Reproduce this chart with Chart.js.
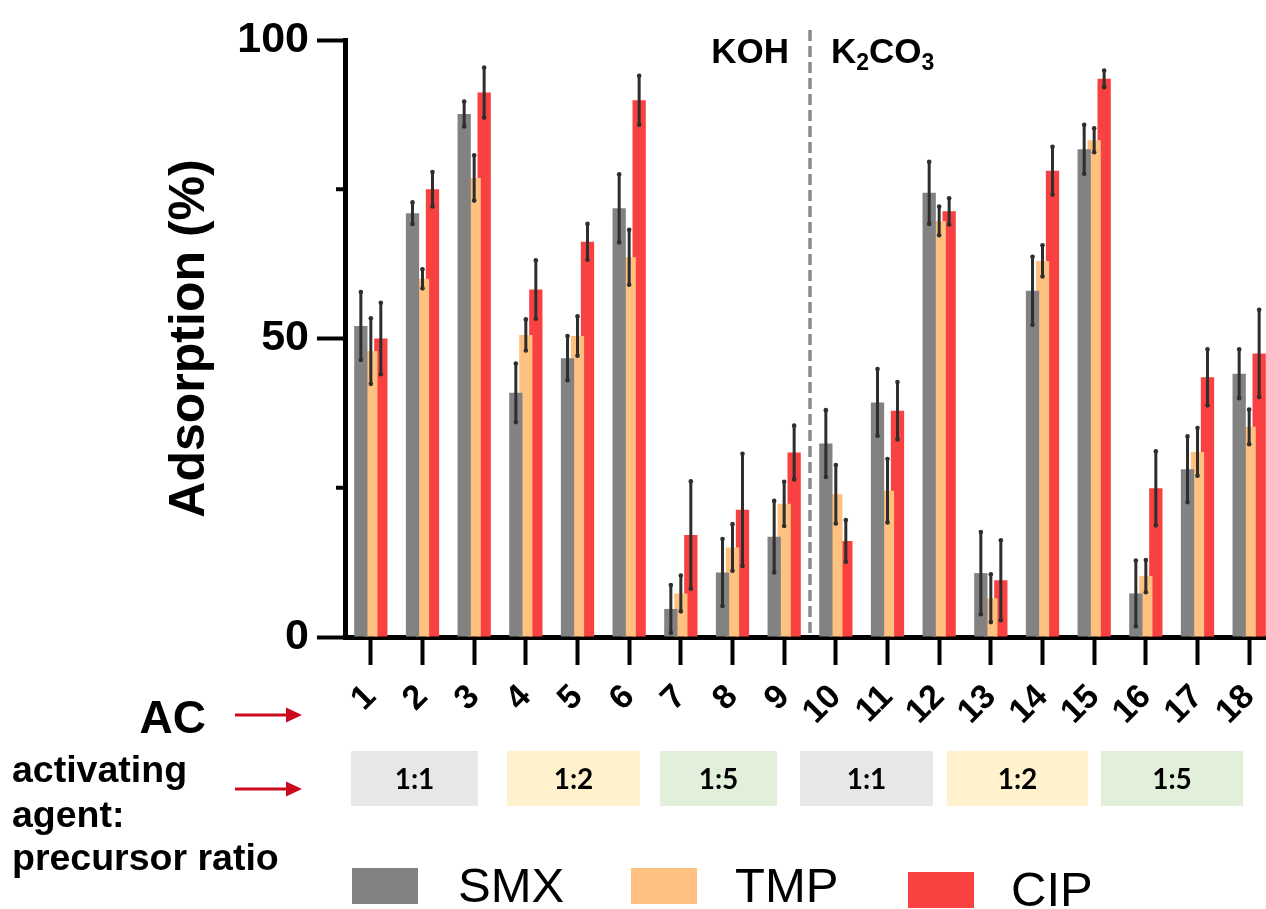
<!DOCTYPE html>
<html>
<head>
<meta charset="utf-8">
<title>Antibiotic adsorption on activated carbons</title>
<script src="https://cdn.jsdelivr.net/npm/chart.js@4.4.0/dist/chart.umd.min.js"></script>
<style>
  html, body { margin: 0; padding: 0; background: #fff; overflow: hidden; }
  #wrap { position: relative; width: 1266px; height: 909px; overflow: hidden; }
  #adsChart { position: absolute; left: 0; top: 0; }
</style>
</head>
<body>
<div id="wrap"><canvas id="adsChart" width="1280" height="909"></canvas></div>
<script>
// activated carbon samples 1-18 (1-9 KOH, 10-18 K2CO3)
const samples = ['1', '2', '3', '4', '5', '6', '7', '8', '9',
                 '10', '11', '12', '13', '14', '15', '16', '17', '18'];

// adsorption (%) mean and standard deviation per antibiotic
const smxMean = [52.1, 71.0, 87.6, 40.9, 46.7, 71.8, 4.7, 10.8, 16.8, 32.4, 39.3, 74.4, 10.7, 58.0, 81.7, 7.3, 28.1, 44.1];
const smxSd   = [5.7, 1.8, 2.1, 4.9, 3.7, 5.7, 4.0, 5.6, 6.0, 5.6, 5.6, 5.2, 6.9, 5.7, 4.1, 5.5, 5.5, 4.1];
const tmpMean = [47.9, 60.0, 76.9, 50.6, 50.4, 63.6, 7.3, 15.0, 22.3, 23.9, 24.5, 69.7, 6.5, 63.0, 83.2, 10.2, 31.0, 35.2];
const tmpSd   = [5.5, 1.6, 3.8, 2.6, 3.3, 4.6, 3.0, 3.9, 3.7, 4.9, 5.3, 2.4, 4.0, 2.6, 2.0, 2.7, 4.0, 2.9];
const cipMean = [50.0, 75.0, 91.2, 58.2, 66.2, 89.9, 17.1, 21.3, 30.9, 16.1, 37.9, 71.3, 9.5, 78.1, 93.5, 24.9, 43.5, 47.5];
const cipSd   = [6.0, 2.9, 4.2, 4.9, 3.0, 4.1, 9.0, 9.4, 4.5, 3.5, 4.8, 2.2, 6.7, 4.0, 1.4, 6.2, 4.7, 7.3];

const seriesNames = ['SMX', 'TMP', 'CIP'];
const yLabelled = [0, 50, 100];
const ratioLabels = ['1:1', '1:2', '1:5', '1:1', '1:2', '1:5'];

const errors = [smxSd, tmpSd, cipSd];
const FONT = '"Liberation Sans", Arial, sans-serif';

// boxes under the axis for the activating agent ratio rows
const ratioBoxes = [[351, 478], [507, 640], [660, 777], [800, 933], [947, 1088], [1101, 1243]];
const ratioFills = ['#e7e7e7', '#fff2cd', '#e2efda', '#e7e7e7', '#fff2cd', '#e2efda'];

const errorBars = {
  id: 'errorBars',
  afterDatasetsDraw(chart) {
    const { ctx } = chart;
    const y = chart.scales.y;
    ctx.save();
    ctx.strokeStyle = '#2e2e2e';
    ctx.fillStyle = '#2e2e2e';
    ctx.lineWidth = 3;
    ctx.lineCap = 'round';
    chart.data.datasets.forEach((ds, i) => {
      chart.getDatasetMeta(i).data.forEach((bar, j) => {
        const sd = errors[i][j];
        const top = y.getPixelForValue(ds.data[j] + sd);
        const bot = y.getPixelForValue(Math.max(0, ds.data[j] - sd));
        ctx.beginPath();
        ctx.moveTo(bar.x, top);
        ctx.lineTo(bar.x, bot);
        ctx.stroke();
        [top, bot].forEach(p => {
          ctx.beginPath();
          ctx.arc(bar.x, p, 2.3, 0, Math.PI * 2);
          ctx.fill();
        });
      });
    });
    ctx.restore();
  }
};

function arrow(ctx, x0, x1, y) {
  ctx.beginPath();
  ctx.moveTo(x0, y);
  ctx.lineTo(x1 - 14, y);
  ctx.stroke();
  ctx.beginPath();
  ctx.moveTo(x1, y);
  ctx.lineTo(x1 - 16, y - 7.5);
  ctx.lineTo(x1 - 16, y + 7.5);
  ctx.closePath();
  ctx.fill();
}

const annotations = {
  id: 'annotations',
  afterDraw(chart) {
    const { ctx, chartArea } = chart;
    const x = chart.scales.x;
    const y = chart.scales.y;
    ctx.save();

    // short ticks at 25 and 75
    ctx.strokeStyle = '#000';
    ctx.lineWidth = 4;
    [25, 75].forEach(v => {
      const py = y.getPixelForValue(v);
      ctx.beginPath();
      ctx.moveTo(chartArea.left - 9, py);
      ctx.lineTo(chartArea.left, py);
      ctx.stroke();
    });

    // KOH | K2CO3 divider
    const xd = (x.getPixelForValue(8) + x.getPixelForValue(9)) / 2;
    ctx.strokeStyle = '#8a8a8a';
    ctx.lineWidth = 3.5;
    ctx.setLineDash([11, 5]);
    ctx.beginPath();
    ctx.moveTo(xd, 30);
    ctx.lineTo(xd, chartArea.bottom - 3);
    ctx.stroke();
    ctx.setLineDash([]);

    ctx.fillStyle = '#000';
    ctx.textBaseline = 'alphabetic';
    ctx.font = 'bold 35px ' + FONT;
    ctx.textAlign = 'right';
    ctx.fillText('KOH', xd - 21, 63);
    ctx.textAlign = 'left';
    let cx = xd + 21;
    const parts = [['K', 35, 63], ['2', 23, 70], ['CO', 35, 63], ['3', 23, 70]];
    parts.forEach(([t, s, b]) => {
      ctx.font = 'bold ' + s + 'px ' + FONT;
      ctx.fillText(t, cx, b);
      cx += ctx.measureText(t).width;
    });

    // row captions and arrows
    ctx.font = 'bold 46px ' + FONT;
    ctx.textAlign = 'right';
    ctx.fillText('AC', 206, 733);
    ctx.textAlign = 'left';
    ctx.font = 'bold 37.5px ' + FONT;
    ctx.fillText('activating', 12, 782);
    ctx.fillText('agent:', 12, 827);
    ctx.fillText('precursor ratio', 12, 870);

    ctx.strokeStyle = '#cc0a1e';
    ctx.fillStyle = '#cc0a1e';
    ctx.lineWidth = 3;
    arrow(ctx, 235, 302, 715);
    arrow(ctx, 235, 302, 789);

    // ratio boxes
    ctx.textAlign = 'center';
    ctx.textBaseline = 'middle';
    ctx.font = 'bold 28px Lato, "Open Sans", sans-serif';
    ratioBoxes.forEach(([a, b], i) => {
      ctx.fillStyle = ratioFills[i];
      ctx.fillRect(a, 751, b - a, 55);
      ctx.fillStyle = '#000';
      ctx.fillText(ratioLabels[i], (a + b) / 2, 780);
    });

    // legend
    const legendX = [352, 631, 908];
    const textX = [458, 735, 1011];
    const base = [902, 902, 906];
    ctx.textAlign = 'left';
    ctx.textBaseline = 'alphabetic';
    ctx.font = '49px ' + FONT;
    chart.data.datasets.forEach((ds, i) => {
      ctx.fillStyle = ds.backgroundColor;
      ctx.fillRect(legendX[i], base[i] - 34, 66, 36);
      ctx.fillStyle = '#000';
      ctx.fillText(ds.label, textX[i], base[i]);
    });

    ctx.restore();
  }
};

new Chart(document.getElementById('adsChart'), {
  type: 'bar',
  data: {
    labels: samples,
    datasets: [
      { label: seriesNames[0], data: smxMean, backgroundColor: '#828282' },
      { label: seriesNames[1], data: tmpMean, backgroundColor: '#ffc17f' },
      { label: seriesNames[2], data: cipMean, backgroundColor: '#f94141' }
    ]
  },
  options: {
    responsive: false,
    animation: false,
    barPercentage: 1.33,
    categoryPercentage: 0.58,
    layout: { padding: { left: 160, right: 5, top: 40, bottom: 152 } },
    plugins: {
      legend: { display: false },
      tooltip: { enabled: false }
    },
    scales: {
      x: {
        afterFit: s => {
          s.height = 120;
          // rotated labels would otherwise push the plot edges inward
          s.paddingLeft = 0;
          s.paddingRight = 0;
        },
        grid: {
          offset: false,
          drawOnChartArea: false,
          tickLength: 28,
          tickWidth: 4,
          tickColor: '#000'
        },
        border: { display: true, width: 5, color: '#000' },
        ticks: {
          autoSkip: false,
          minRotation: 45,
          maxRotation: 45,
          padding: 12,
          color: '#000',
          font: { family: FONT, size: 34, weight: 'bold' }
        }
      },
      y: {
        min: 0,
        max: 100,
        afterFit: s => { s.width = 185; },
        grid: {
          drawOnChartArea: false,
          tickLength: 28,
          tickWidth: 4,
          tickColor: ctx => yLabelled.includes(ctx.tick.value) ? '#000' : 'rgba(0,0,0,0)'
        },
        border: { display: true, width: 5, color: '#000' },
        ticks: {
          stepSize: 25,
          padding: 8,
          color: '#000',
          font: { family: FONT, size: 43, weight: 'bold' },
          callback: v => yLabelled.includes(v) ? String(v) : ''
        },
        title: {
          display: true,
          text: 'Adsorption (%)',
          color: '#000',
          padding: 0,
          font: { family: FONT, size: 50, weight: 'bold' }
        }
      }
    }
  },
  plugins: [errorBars, annotations]
});
</script>
</body>
</html>
